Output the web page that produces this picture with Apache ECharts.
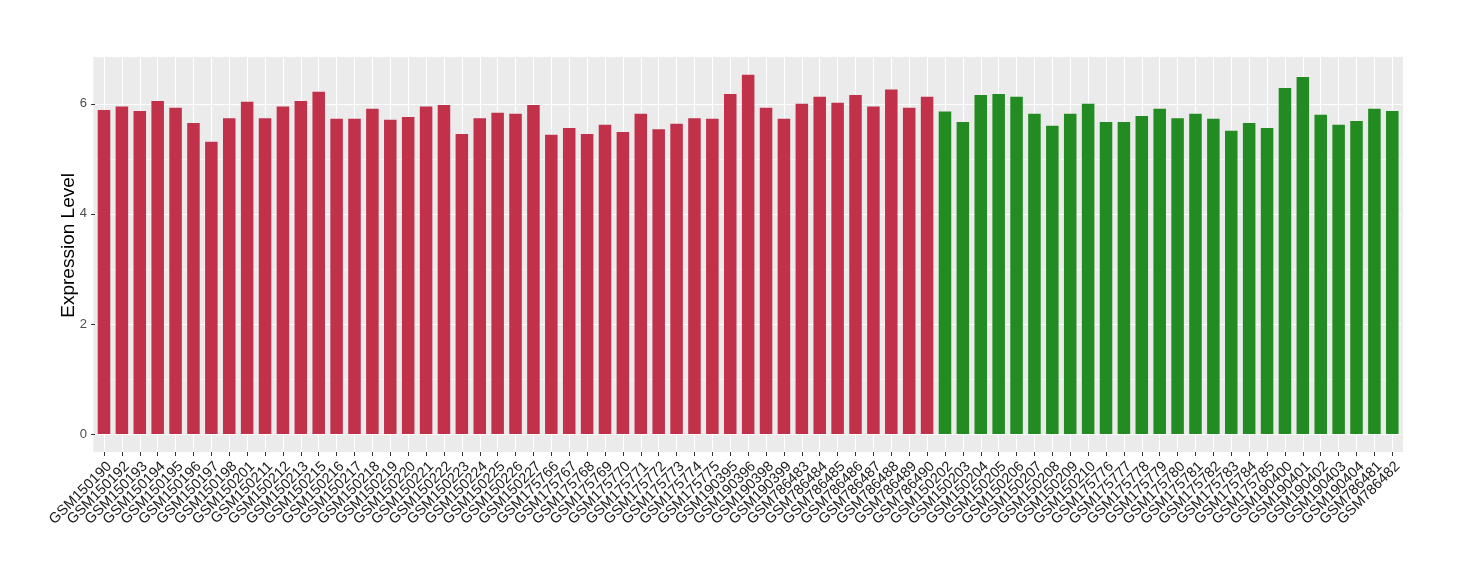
<!DOCTYPE html>
<html>
<head>
<meta charset="utf-8">
<script src="https://cdn.jsdelivr.net/npm/echarts@6/dist/echarts.min.js"></script>
<style>
  html, body { margin: 0; padding: 0; background: #fff; }
  #main { width: 1460px; height: 580px; }
</style>
</head>
<body>
<div id="main"></div>
<script>
// 样本名 (前47个为一组, 后26个为另一组)
var samples = [
  'GSM150190', 'GSM150192', 'GSM150193', 'GSM150194', 'GSM150195', 'GSM150196', 'GSM150197', 'GSM150198',
  'GSM150201', 'GSM150211', 'GSM150212', 'GSM150213', 'GSM150215', 'GSM150216', 'GSM150217', 'GSM150218',
  'GSM150219', 'GSM150220', 'GSM150221', 'GSM150222', 'GSM150223', 'GSM150224', 'GSM150225', 'GSM150226',
  'GSM150227', 'GSM175766', 'GSM175767', 'GSM175768', 'GSM175769', 'GSM175770', 'GSM175771', 'GSM175772',
  'GSM175773', 'GSM175774', 'GSM175775', 'GSM190395', 'GSM190396', 'GSM190398', 'GSM190399', 'GSM786483',
  'GSM786484', 'GSM786485', 'GSM786486', 'GSM786487', 'GSM786488', 'GSM786489', 'GSM786490',
  'GSM150202', 'GSM150203', 'GSM150204', 'GSM150205', 'GSM150206', 'GSM150207', 'GSM150208', 'GSM150209',
  'GSM150210', 'GSM175776', 'GSM175777', 'GSM175778', 'GSM175779', 'GSM175780', 'GSM175781', 'GSM175782',
  'GSM175783', 'GSM175784', 'GSM175785', 'GSM190400', 'GSM190401', 'GSM190402', 'GSM190403', 'GSM190404',
  'GSM786481', 'GSM786482'
];
// 表达量
var levels = [
  5.89, 5.95, 5.87, 6.05, 5.93, 5.65, 5.31, 5.74, 6.04, 5.74, 5.95, 6.05, 6.22, 5.73, 5.73, 5.91,
  5.71, 5.76, 5.95, 5.98, 5.45, 5.74, 5.84, 5.82, 5.98, 5.44, 5.56, 5.45, 5.62, 5.49, 5.82, 5.54,
  5.64, 5.74, 5.73, 6.18, 6.53, 5.93, 5.73, 6.00, 6.13, 6.02, 6.16, 5.95, 6.26, 5.93, 6.13,
  5.86, 5.67, 6.16, 6.18, 6.13, 5.82, 5.60, 5.82, 6.00, 5.67, 5.67, 5.78, 5.91, 5.74, 5.82, 5.73,
  5.51, 5.65, 5.56, 6.29, 6.49, 5.80, 5.62, 5.69, 5.91, 5.87
];
// 分组: 1 = 红, 2 = 绿
var groups = [];
for (var i = 0; i < samples.length; i++) {
    groups.push(i < 47 ? 1 : 2);
}
var groupColors = { 1: '#C1314A', 2: '#228B22' };

var FONT = '"Liberation Sans", Arial, sans-serif';

var myChart = echarts.init(document.getElementById('main'));

var barData = levels.map(function (v, i) {
    return { value: v, itemStyle: { color: groupColors[groups[i]] } };
});

var option = {
    backgroundColor: '#ffffff',
    animation: false,
    grid: [
        // 灰色面板
        { left: 93.3, right: 57, top: 56.7, bottom: 128, show: true, backgroundColor: '#EBEBEB', borderWidth: 0 },
        // 竖向网格线 + x轴标签 (类目中心)
        { left: 104, right: 67.7, top: 56.7, bottom: 128 },
        // 数据区域 (0 位于面板底部以上)
        { left: 95.05, right: 58.75, top: 56.7, bottom: 146 }
    ],
    xAxis: [
        { gridIndex: 0, type: 'value', min: 0, max: 1, show: false },
        {
            gridIndex: 1,
            type: 'category',
            data: samples,
            boundaryGap: false,
            axisLine: { show: false },
            axisTick: { show: true, length: 4, lineStyle: { color: '#333333', width: 1 } },
            splitLine: { show: true, lineStyle: { color: '#ffffff', width: 1.1 } },
            axisLabel: {
                interval: 0, rotate: 45, margin: 7,
                align: 'right', verticalAlign: 'top',
                fontFamily: FONT, fontSize: 14.5, color: '#1a1a1a'
            }
        },
        {
            gridIndex: 2,
            type: 'category',
            data: samples,
            boundaryGap: true,
            show: false
        }
    ],
    yAxis: [
        { gridIndex: 0, type: 'value', min: 0, max: 1, show: false },
        { gridIndex: 1, type: 'value', min: 0, max: 1, show: false },
        {
            gridIndex: 2, type: 'value', position: 'left', min: 0, max: 6.857, interval: 1,
            axisLine: { show: false }, axisTick: { show: false }, axisLabel: { show: false },
            splitLine: { show: true, lineStyle: { color: '#ffffff', width: 0.55 } }
        },
        {
            gridIndex: 2, type: 'value', position: 'left', min: 0, max: 6.857, interval: 2,
            name: 'Expression Level',
            nameLocation: 'middle',
            nameGap: 17,
            nameMoveOverlap: false,
            nameTextStyle: { fontFamily: FONT, fontSize: 19, color: '#000000' },
            axisLine: { show: false },
            axisTick: { show: true, length: 4, lineStyle: { color: '#333333', width: 1 } },
            axisLabel: { margin: 8, showMaxLabel: false, fontFamily: FONT, fontSize: 13, color: '#4D4D4D' },
            splitLine: { show: true, lineStyle: { color: '#ffffff', width: 1.1 } }
        }
    ],
    series: [
        {
            name: 'Expression',
            type: 'bar',
            xAxisIndex: 2,
            yAxisIndex: 3,
            barWidth: '70%',
            data: barData
        }
    ]
};
myChart.setOption(option);
</script>
</body>
</html>
